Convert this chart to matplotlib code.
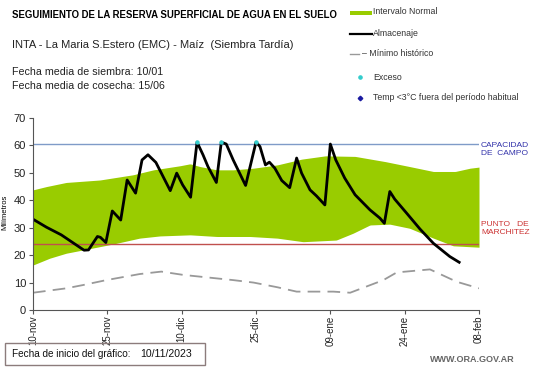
import matplotlib
matplotlib.use("Agg")
import matplotlib.pyplot as plt
from matplotlib.patches import Rectangle
from matplotlib.lines import Line2D
import numpy as np

plt.rcParams['font.family'] = ['Liberation Sans', 'DejaVu Sans']

# ---- data (days since 10-nov-2023) ----
tick_days = [0, 15, 30, 45, 60, 75, 90]
tick_labels = ["10-nov", "25-nov", "10-dic", "25-dic", "09-ene", "24-ene", "08-feb"]

alm_days = [0, 2.7, 5.7, 10.3, 11.2, 13, 13.6, 14.7, 16, 17.7, 19, 20.7, 22, 23.2, 24.8,
            27.7, 29, 30.2, 31.8, 33.1, 34.3, 35.3, 37, 38, 39, 40.4, 42.9, 45, 45.8,
            46.9, 47.7, 48.8, 50.2, 51.8, 53.2, 54.2, 55.9, 57.2, 58.9, 60, 61.1, 62.9,
            65, 68, 70, 70.9, 72, 73, 75.4, 78.1, 80.8, 84.1, 86]
alm_vals = [33.1, 30.2, 27.4, 21.8, 21.9, 26.8, 26.5, 24.6, 36.1, 32.8, 47.4, 42.6, 54.7,
            56.6, 53.8, 43.5, 49.9, 45.6, 41.1, 61.2, 56.6, 52.3, 46.5, 61.2, 60.5, 54.7,
            45.4, 61.2, 59.6, 52.9, 53.9, 51.7, 47.2, 44.6, 55.4, 49.9, 43.8, 41.6, 38.3,
            60.5, 54.7, 48.1, 42.0, 36.5, 33.5, 31.6, 43.2, 40.4, 35.3, 29.5, 24.3, 19.5, 17.4]

exceso_days = [33.1, 38, 45]
exceso_vals = [61.2, 61.2, 61.2]

band_days = [0, 2.7, 6.7, 13.5, 20.2, 24.3, 29.7, 31.7, 33.7, 37.1, 40.4, 44.5, 49.3,
             54.2, 59, 65, 71.1, 76, 80.8, 85.2, 88.2, 90]
band_upper = [43.8, 45.0, 46.5, 47.4, 49.3, 51.1, 52.6, 53.3, 52.3, 51.1, 51.1, 51.7,
              52.9, 55.0, 56.2, 56.0, 54.1, 52.3, 50.5, 50.5, 51.7, 52.1]
band_days_lo = [0, 3.4, 6.7, 10.1, 13.5, 16.8, 21.5, 25.6, 31.7, 37.1, 43.8, 49.3, 54.5,
                61.2, 64.6, 68, 72, 76, 80.8, 84.8, 90]
band_lower = [16.4, 18.9, 20.7, 21.9, 23.1, 24.3, 26.2, 27.0, 27.4, 26.8, 26.8, 26.2,
              24.9, 25.5, 28.0, 31.0, 31.3, 29.8, 26.2, 23.4, 22.9]

min_days = [0, 6.7, 10.1, 14.8, 21.5, 25.9, 30.3, 40.4, 44.5, 49.3, 53.2, 60.6, 64, 70.7,
            73.4, 80.1, 85.5, 90]
min_vals = [6.3, 7.9, 9.1, 10.9, 13.1, 14.0, 12.8, 10.9, 10.0, 8.3, 6.7, 6.7, 6.3, 10.9,
            13.7, 14.8, 10.3, 7.9]

capacidad = 60.7
marchitez = 24.2

# ---- figure ----
W, H = 541, 368
fig = plt.figure(figsize=(W / 100, H / 100), dpi=100)
ax = fig.add_axes([33 / W, 1 - 310 / H, (479 - 33) / W, 192 / H])

grid = np.linspace(0, 90, 400)
up = np.interp(grid, band_days, band_upper)
lo = np.interp(grid, band_days_lo, band_lower)
ax.fill_between(grid, lo, up, color="#99cc00", lw=0)

ax.axhline(capacidad, color="#7f9bc8", lw=1.0)
ax.axhline(marchitez, color="#c0504d", lw=1.0)

ax.plot(min_days, min_vals, color="#999999", lw=1.3, dashes=(7, 4))
ax.plot(alm_days, alm_vals, color="black", lw=2.0, solid_joinstyle="round")
ax.scatter(exceso_days, exceso_vals, s=10, color="#33cccc", zorder=5, lw=0)

ax.set_xlim(0, 90)
ax.set_ylim(0, 70)
ax.set_yticks(range(0, 71, 10))
ax.set_xticks(tick_days)
ax.set_xticklabels(tick_labels, rotation=90)
ax.tick_params(axis="y", labelsize=8, length=3, pad=2, color="#555555", labelcolor="#222222")
ax.tick_params(axis="x", labelsize=7, length=3, pad=1, color="#555555", labelcolor="#222222")
for s in ["top", "right"]:
    ax.spines[s].set_visible(False)
for s in ["left", "bottom"]:
    ax.spines[s].set_color("#555555")
ax.set_ylabel("Milímetros", fontsize=5.5)
ax.yaxis.set_label_coords((8 - 33) / (479 - 33), (310 - 212) / 192)

ax.text(90.4, 58.6, "CAPACIDAD\nDE  CAMPO", color="#3333aa", fontsize=6,
        va="center", ha="left", linespacing=1.25)
ax.text(90.4, 29.7, "PUNTO   DE\nMARCHITEZ", color="#cc3333", fontsize=6,
        va="center", ha="left", linespacing=1.25)

# ---- titles ----
def fx(px):
    return px / W

def fy(py):
    return 1 - py / H

fig.text(fx(12), fy(15), "SEGUIMIENTO DE LA RESERVA SUPERFICIAL DE AGUA EN EL SUELO",
         fontsize=6.9, fontweight="bold", va="center", ha="left")
fig.text(fx(12), fy(45), "INTA - La Maria S.Estero (EMC) - Maíz  (Siembra Tardía)",
         fontsize=8.0, va="center", ha="left", color="#222222")
fig.text(fx(12), fy(72), "Fecha media de siembra: 10/01", fontsize=7.7, va="center",
         ha="left", color="#222222")
fig.text(fx(12), fy(86), "Fecha media de cosecha: 15/06", fontsize=7.7, va="center",
         ha="left", color="#222222")

# ---- legend ----
fig.patches.append(Rectangle((fx(350), fy(15)), (372 - 350) / W, 4 / H,
                             transform=fig.transFigure, color="#99cc00", lw=0))
fig.text(fx(373), fy(12), "Intervalo Normal", fontsize=6.3, va="center", ha="left",
         color="#333333")
fig.lines.append(Line2D([fx(350), fx(372)], [fy(34), fy(34)], transform=fig.transFigure,
                        color="black", lw=1.6))
fig.text(fx(373), fy(34), "Almacenaje", fontsize=6.3, va="center", ha="left", color="#333333")
fig.lines.append(Line2D([fx(350), fx(359)], [fy(54), fy(54)], transform=fig.transFigure,
                        color="#999999", lw=1.0))
fig.text(fx(362), fy(54), "– Mínimo histórico", fontsize=6.3, va="center", ha="left",
         color="#333333")
fig.lines.append(Line2D([fx(360)], [fy(77)], transform=fig.transFigure, marker="o",
                        markersize=2.3, color="#33cccc", lw=0))
fig.text(fx(373), fy(77), "Exceso", fontsize=6.3, va="center", ha="left", color="#333333")
fig.lines.append(Line2D([fx(360)], [fy(98)], transform=fig.transFigure, marker="D",
                        markersize=2.3, color="#1a1aa0", lw=0))
fig.text(fx(373), fy(98), "Temp <3°C fuera del período habitual", fontsize=6.3,
         va="center", ha="left", color="#333333")

# ---- footer ----
fig.patches.append(Rectangle((fx(5), fy(365)), (205 - 5) / W, 22 / H,
                             transform=fig.transFigure, fill=False, ec="#8c7c7c", lw=1.0))
fig.text(fx(12), fy(354), "Fecha de inicio del gráfico:", fontsize=7.2, va="center",
         ha="left", color="#111111")
fig.text(fx(140), fy(354), "10/11/2023", fontsize=7.6, va="center", ha="left",
         color="#111111")
fig.text(fx(515), fy(359), "WWW.ORA.GOV.AR", fontsize=6.5, va="center", ha="right",
         color="#666666", fontweight="bold")

fig.savefig("out.png", dpi=100, facecolor="white")
